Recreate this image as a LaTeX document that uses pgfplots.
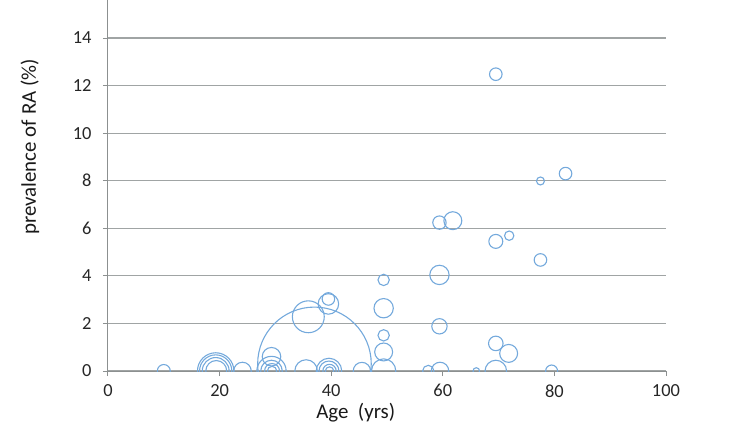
\documentclass[border=0pt]{standalone}
\usepackage{fontspec}
\setmainfont{Carlito}
\usepackage{pgfplots}
\pgfplotsset{compat=1.18}
\definecolor{bub}{HTML}{74A9DC}
\definecolor{gridc}{HTML}{A0A4A4}
\definecolor{axc}{HTML}{8C9090}
\pgfplotstableread{
x y r
10 0 6.5
19.3 0 18.3
19.3 0 16.2
19.3 0 13.5
19.4 0 10.5
24.1 0 8.8
29.3 0 14.7
29.3 0 10.8
29.4 0 7.5
29.4 0 4.7
29.3 0.6 9.3
35.5 0 11.3
35.9 2.28 16
37.0 0.3 57
39.5 2.82 10.3
39.5 3.03 6.3
39.6 0 12.8
39.6 0 10
39.7 0 6.7
39.7 0 4.2
45.5 0 8.7
49.4 3.83 5.7
49.4 2.64 9.7
49.4 1.5 5.7
49.4 0.8 9
49.4 0 12.2
57.4 0 5.7
59.5 0 8.8
59.4 6.24 6.7
61.8 6.32 9
59.4 4.04 9.7
59.4 1.88 7.7
66.0 0 3.3
69.5 12.48 6.3
69.5 5.45 7
71.9 5.69 4.7
69.5 1.16 7.3
71.8 0.74 9
69.5 0 10.8
77.5 7.99 4
82.0 8.30 6.3
77.5 4.67 6.3
79.5 0 6
}\bubbles
\begin{document}
\begin{tikzpicture}
\begin{axis}[
 scale only axis, width=558bp, height=371bp,
 xmin=0, xmax=100, ymin=0, ymax=15.6,
 axis lines*=left,
 axis line style={axc, line width=1bp},
 xtick={0,20,...,100}, ytick={0,2,...,14},
 tick align=outside, major tick length=5bp,
 tick style={axc, line width=1bp},
 ymajorgrids, grid style={gridc, line width=1.2bp},
 ticklabel style={font=\fontsize{18.5}{22}\selectfont, text=black!85},
 xticklabel style={yshift=-5bp},
 yticklabel style={xshift=-8bp},
 /pgf/number format/assume math mode=true,
 xlabel={Age~~(yrs)}, ylabel={prevalence of RA (\%)},
 label style={font=\fontsize{21}{25}\selectfont, text=black!90},
 xlabel style={at={([yshift=-42bp]rel axis cs:0.444,0)}, anchor=center},
 ylabel style={at={([xshift=-78bp]rel axis cs:0,0.604)}, anchor=center},
 clip marker paths=true,
]
\addplot[scatter, only marks, mark=o,
 visualization depends on={\thisrow{r} \as \perpointmarksize},
 scatter/@pre marker code/.code={\pgfplotmarksize=\perpointmarksize pt\relax\scope[draw=bub,line width=1.1bp]},
 scatter/@post marker code/.code={\endscope}]
 table[x=x, y=y] {\bubbles};
\end{axis}
\pgfresetboundingbox
\path[use as bounding box] ([xshift=-108bp, yshift=-64bp]current axis.south west) rectangle ([xshift=72bp]current axis.north east);
\end{tikzpicture}
\end{document}
